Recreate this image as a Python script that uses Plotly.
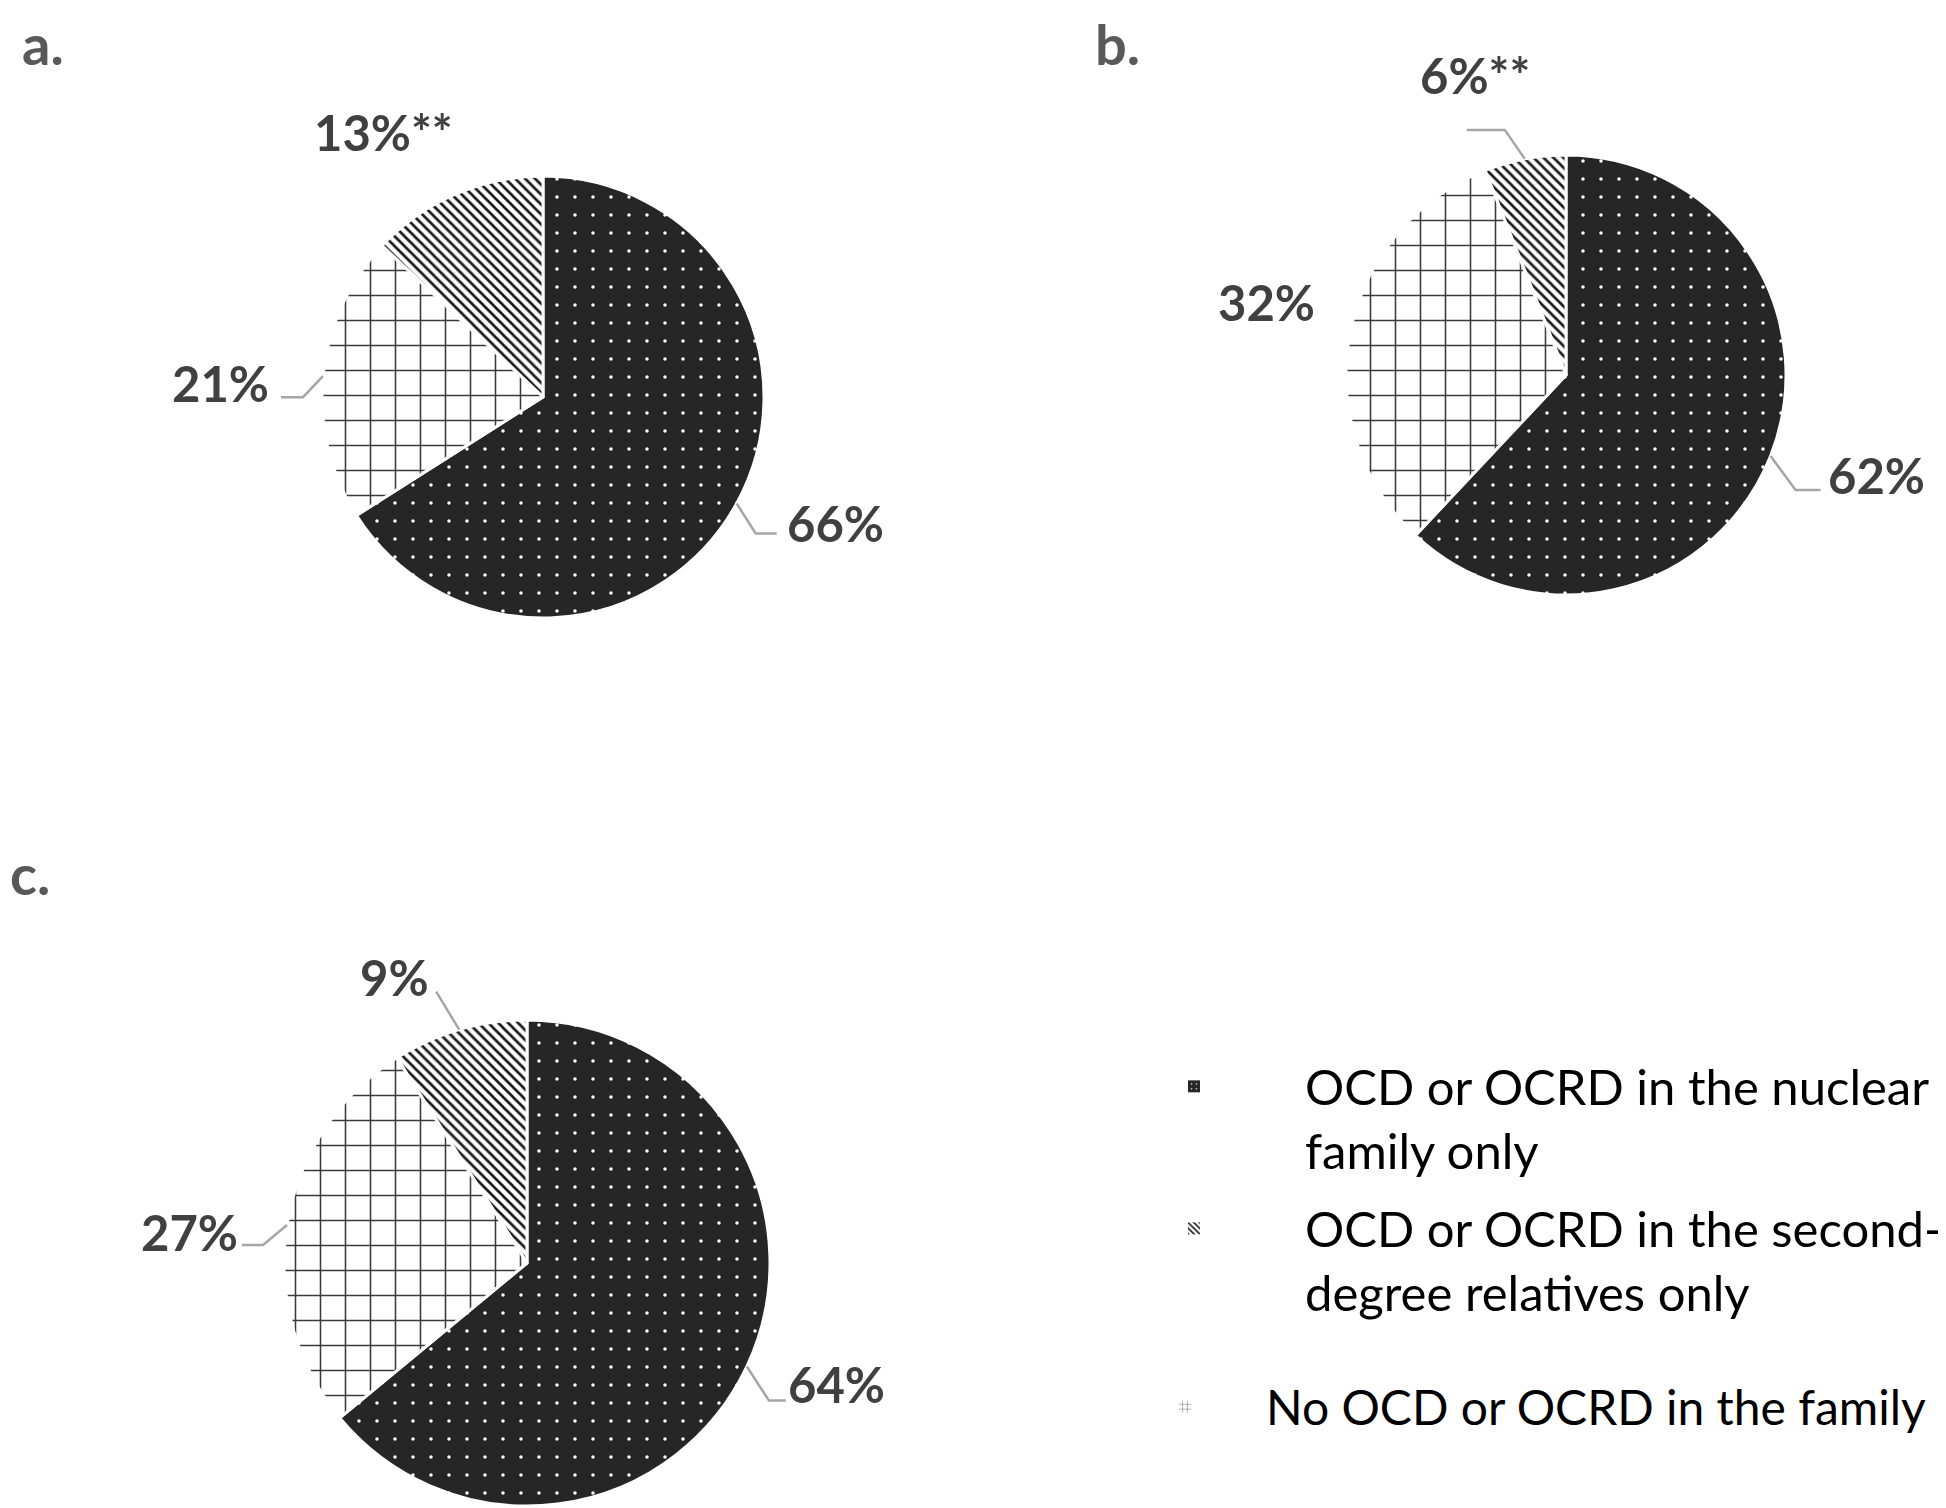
import math
import plotly.graph_objects as go

# ---------------- data ----------------
panels = ["a.", "b.", "c."]
categories = [
    "OCD or OCRD in the nuclear family only",
    "OCD or OCRD in the second-degree relatives only",
    "No OCD or OCRD in the family",
]
legend_text = [
    "OCD or OCRD in the nuclear<br>family only",
    "OCD or OCRD in the second-<br>degree relatives only",
    "No OCD or OCRD in the family",
]
nuclear_pct = [66, 62, 64]
second_pct = [13, 6, 9]
no_family_pct = [21, 32, 27]
second_marks = ["**", "**", ""]

# ---------------- layout / style ----------------
W, H = 1946, 1508
PAGE_OFF = 8  # default body margin of the html page
# pie centre (px) and radius (px)
pie_geom = [(543, 397, 221), (1566, 375, 220), (527, 1263, 243)]
# panel letters: top-left corner of text box (screen px)
panel_letter_pos = [(20, 8), (1093, 8), (8, 838)]

patterns = [
    dict(shape=".", bgcolor="#262626", fgcolor="#ffffff", size=18, solidity=0.03),
    dict(shape="\\", bgcolor="#ffffff", fgcolor="#1a1a1a", size=7, solidity=0.38),
    dict(shape="+", bgcolor="#ffffff", fgcolor="#3a3a3a", size=25, solidity=0.12),
]

# label offsets from pie centre (px) for [nuclear, second, no-family]
label_off = [
    [(292, 126), (-160, -265), (-323, -14)],
    [(310, 100), (-91, -300), (-300, -73)],
    [(309, 121), (-133, -286), (-338, -31)],
]
# leader polylines relative to the slice-edge point (None = no leader)
leader_rel = [
    [[(19, 30), (40, 30)], None, [(-20, 21), (-42, 21)]],
    [[(25, 34), (50, 34)], [(-20, -29), (-58, -29)], None],
    [[(22, 34), (39, 34)], [(-23, -38)], [(-24, 20), (-45, 20)]],
]

LABEL_FONT = dict(family="Lato", size=49, color="#404040")
LEG_FONT = dict(family="Lato", size=49, color="#000000")


def px2paper(x, y):
    return (x - PAGE_OFF) / W, 1 - (y - PAGE_OFF) / H


fig = go.Figure()
annotations = []
shapes = []

for i in range(3):
    cx, cy, R = pie_geom[i]
    vals = [nuclear_pct[i], second_pct[i], no_family_pct[i]]
    x0, y1 = px2paper(cx - R, cy - R)
    x1, y0 = px2paper(cx + R, cy + R)
    fig.add_trace(go.Pie(
        values=vals,
        labels=categories,
        sort=False,
        direction="counterclockwise",
        rotation=0,
        textinfo="none",
        hoverinfo="label+percent",
        showlegend=False,
        marker=dict(
            colors=[p["bgcolor"] for p in patterns],
            pattern=dict(
                shape=[p["shape"] for p in patterns],
                bgcolor=[p["bgcolor"] for p in patterns],
                fgcolor=[p["fgcolor"] for p in patterns],
                size=[p["size"] for p in patterns],
                solidity=[p["solidity"] for p in patterns],
                fillmode="replace",
            ),
            line=dict(color="#ffffff", width=3),
        ),
        domain=dict(x=[x0, x1], y=[max(y0, 0), y1]),
    ))

    # slice mid angles (clockwise from 12 o'clock): nuclear, then no-family, then second
    tot = sum(vals)
    n, s, nf = vals
    mids = [
        n / 2 / tot * 2 * math.pi,
        (n + nf + s / 2) / tot * 2 * math.pi,
        (n + nf / 2) / tot * 2 * math.pi,
    ]
    texts = [f"{n}%", f"{s}%{second_marks[i]}", f"{nf}%"]
    for k in range(3):
        dx, dy = label_off[i][k]
        ax, ay = px2paper(cx + dx, cy + dy)
        annotations.append(dict(
            x=ax, y=ay, xref="paper", yref="paper", text=f"<b>{texts[k]}</b>",
            showarrow=False, xanchor="center", yanchor="middle", font=LABEL_FONT,
        ))
        if leader_rel[i][k] is not None:
            sx = cx + R * math.sin(mids[k])
            sy = cy - R * math.cos(mids[k])
            pts = [(sx, sy)] + [(sx + a, sy + b) for a, b in leader_rel[i][k]]
            path = "M " + " L ".join(
                f"{px2paper(x, y)[0]:.5f},{px2paper(x, y)[1]:.5f}" for x, y in pts)
            shapes.append(dict(type="path", path=path, xref="paper", yref="paper",
                               line=dict(color="#a6a6a6", width=2.5)))

    lx, ly = panel_letter_pos[i]
    px_, py_ = px2paper(lx, ly)
    annotations.append(dict(
        x=px_, y=py_, xref="paper", yref="paper", text=f"<b>{panels[i]}</b>",
        showarrow=False, xanchor="left", yanchor="top",
        font=dict(family="Lato", size=56, color="#595959"),
    ))

# legend entries (placeholder bar traces without drawn bars, one legend each)
legend_pos = [(1083, 1048), (1083, 1190), (1104, 1369)]
legend_itemwidth = [212, 212, 152]
legend_names = ["legend", "legend2", "legend3"]
legend_fontsize = [49, 49, 48]
for k in range(3):
    fig.add_trace(go.Bar(
        x=[None], y=[None], name=legend_text[k], legend=legend_names[k],
        marker=dict(color=patterns[k]["bgcolor"], pattern=dict(
            shape=patterns[k]["shape"], bgcolor=patterns[k]["bgcolor"],
            fgcolor=patterns[k]["fgcolor"], size=[6, 5, 6][k],
            solidity=[0.08, 0.4, 0.15][k], fillmode="replace"),
            line=dict(width=0)),
        showlegend=True, hoverinfo="skip",
    ))

leg_layout = {}
for k in range(3):
    x, y = px2paper(*legend_pos[k])
    leg_layout[legend_names[k]] = dict(
        x=x, y=y, xanchor="left", yanchor="top",
        font=dict(LEG_FONT, size=legend_fontsize[k]),
        itemwidth=legend_itemwidth[k], valign="top", bgcolor="rgba(0,0,0,0)",
        borderwidth=0, itemclick=False, itemdoubleclick=False,
    )

fig.update_layout(
    width=W, height=H,
    margin=dict(l=0, r=0, t=0, b=0, autoexpand=False),
    paper_bgcolor="#ffffff", plot_bgcolor="#ffffff",
    showlegend=True,
    xaxis=dict(visible=False), yaxis=dict(visible=False),
    annotations=annotations, shapes=shapes,
    **leg_layout,
)

fig.write_html("out.html")
